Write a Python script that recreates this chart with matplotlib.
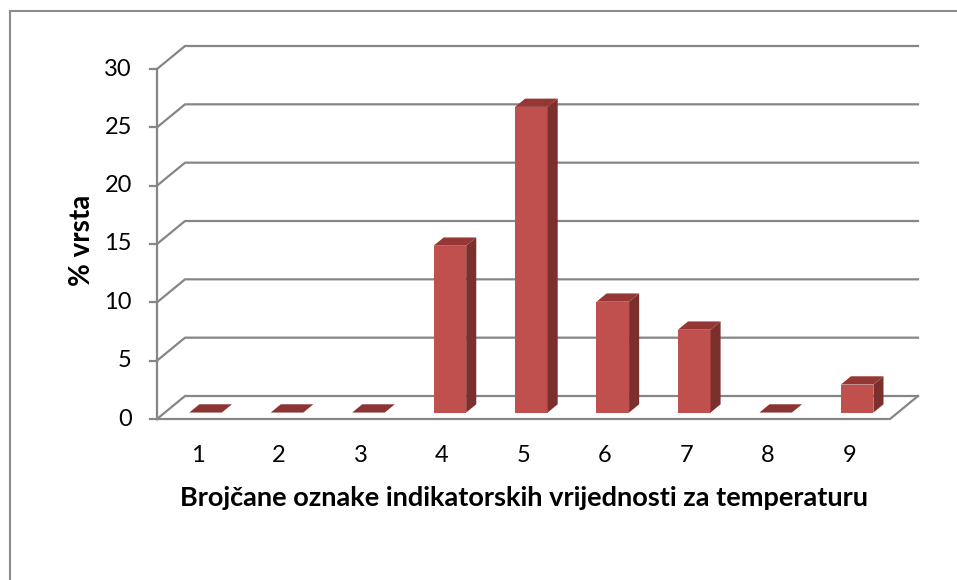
import numpy as np
import matplotlib.pyplot as plt
from matplotlib.patches import Polygon, Rectangle

categories = ['1', '2', '3', '4', '5', '6', '7', '8', '9']
values = [0, 0, 0, 14.3, 26.2, 9.5, 7.1, 0, 2.4]
yticks = [0, 5, 10, 15, 20, 25, 30]

plt.rcParams['font.family'] = ['Lato', 'DejaVu Sans']

W, H = 957, 580
fig = plt.figure(figsize=(W / 100, H / 100), dpi=100)
fig.patches.append(Rectangle((9.5 / W, -0.1), 1.2, (H - 11) / H + 0.1,
                             transform=fig.transFigure, fill=False,
                             edgecolor='#8C8C8C', lw=1.5))

ax = fig.add_axes([157 / W, 1 - 419 / H, (890 - 157) / W, (419 - 69) / H])
n = len(categories)
ax.set_xlim(0.5, n + 0.5)
ax.set_ylim(0, 30)
ax.axis('off')

# oblique depth of the 3D box, in data units
ddx = 28 / (733 / n)
ddy = 23 / (350 / 30)
grid = '#868686'
lw = 1.6

# walls / gridlines
for t in yticks:
    ax.plot([0.5, 0.5 + ddx, n + 0.5 + ddx], [t, t + ddy, t + ddy],
            color=grid, lw=lw, clip_on=False, zorder=1)
    ax.plot([0.5 - 0.09, 0.5], [t, t], color=grid, lw=lw, clip_on=False, zorder=1)
    ax.text(0.5 - 0.31, t, str(t), ha='right', va='center', fontsize=17)
ax.plot([0.5, 0.5], [0, 30], color=grid, lw=lw, clip_on=False, zorder=1)
ax.plot([0.5, n + 0.5, n + 0.5 + ddx], [0, 0, ddy],
        color=grid, lw=lw, clip_on=False, zorder=1)

# bars
w = 0.40
f0, dd = 0.28, 0.36
front_c, side_c, top_c = '#C0504D', '#7C302E', '#953735'
for i, v in enumerate(values):
    x0 = i + 1 - w / 2 + f0 * ddx
    y0 = f0 * ddy
    sx, sy = dd * ddx, dd * ddy
    if v > 0:
        ax.add_patch(Rectangle((x0, y0), w, v, facecolor=front_c,
                               edgecolor='none', zorder=2, clip_on=False))
        ax.add_patch(Polygon([(x0 + w, y0), (x0 + w + sx, y0 + sy),
                              (x0 + w + sx, y0 + v + sy), (x0 + w, y0 + v)],
                             facecolor=side_c, edgecolor='none', zorder=2, clip_on=False))
    ax.add_patch(Polygon([(x0, y0 + v), (x0 + w, y0 + v),
                          (x0 + w + sx, y0 + v + sy), (x0 + sx, y0 + v + sy)],
                         facecolor=top_c if v > 0 else '#8A3533',
                         edgecolor='none', zorder=2, clip_on=False))

for i, c in enumerate(categories):
    ax.text(i + 1, -3.09, c, ha='center', va='center', fontsize=17)

ax.text(5.01, -6.77, 'Brojčane oznake indikatorskih vrijednosti za temperaturu',
        ha='center', va='center', fontsize=19.5, fontweight='bold')
ax.text(-0.42, 15.3, '% vrsta', ha='center', va='center', rotation=90,
        fontsize=20, fontweight='bold')

fig.savefig('out.png', dpi=100)
